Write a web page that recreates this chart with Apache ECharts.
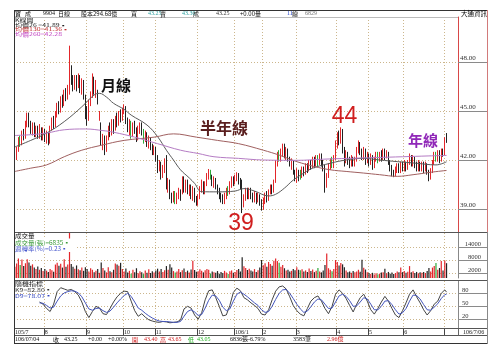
<!DOCTYPE html>
<html><head><meta charset="utf-8">
<script src="https://cdn.jsdelivr.net/npm/echarts@6/dist/echarts.min.js"></script>
<style>html,body{margin:0;padding:0;background:#fff}#c{width:500px;height:353px}</style>
</head><body><div id="c"></div>
<script>
// ---- data (open, close, low, high) per trading day ----
const ohlc = [
[41.4,42.1,41.3,42.3],[42.1,42.6,42.0,42.8],[42.6,43.2,42.5,43.4],[43.2,43.0,42.8,43.5],[43.0,43.6,42.9,43.8],[43.6,43.4,43.2,43.9],[43.4,44.2,43.3,44.4],[44.2,44.7,44.0,44.9],[44.7,44.2,44.0,44.9],[44.2,43.8,43.6,44.4],
[43.8,44.1,43.5,44.3],[44.1,43.6,43.4,44.3],[43.6,43.9,43.4,44.1],[43.9,43.5,43.3,44.1],[43.5,43.9,43.3,44.2],[43.9,43.4,43.2,44.0],[43.4,43.8,43.2,44.0],[43.8,43.3,43.1,43.9],[43.3,43.6,43.0,43.8],[43.6,43.1,42.9,43.7],
[43.1,43.9,43.0,44.1],[43.9,44.4,43.8,44.6],[44.4,44.1,43.9,44.7],[44.1,44.8,44.0,45.0],[44.8,45.3,44.6,45.5],[45.3,45.0,44.8,45.6],[45.0,45.7,44.9,45.9],[45.7,45.4,45.2,46.0],[45.4,46.1,45.3,46.3],[46.1,45.9,45.6,46.4],
[45.9,46.3,45.7,46.6],[46.2,47.8,46.0,49.0],[47.6,46.9,46.6,47.8],[46.9,46.5,46.2,47.2],[46.5,47.0,46.3,47.2],[47.0,46.5,46.2,47.2],[46.5,47.0,46.4,47.3],[47.0,46.3,46.1,47.2],[46.3,46.8,46.0,47.0],[46.8,45.9,45.7,46.9],
[45.9,44.9,44.5,46.0],[44.9,44.5,44.1,45.3],[44.5,45.5,44.4,45.7],[45.5,46.0,45.3,46.2],[46.0,46.9,45.8,47.3],[46.9,46.3,46.0,47.1],[46.3,46.6,45.8,46.9],[46.3,45.5,45.4,46.3],[44.6,44.9,44.4,45.0],[44.2,43.0,42.9,44.3],
[43.0,43.4,42.6,43.6],[43.4,42.6,42.3,43.5],[42.6,43.3,42.5,43.5],[43.3,43.9,43.2,44.1],[43.9,43.6,43.4,44.3],[43.6,44.3,43.5,44.5],[44.3,43.9,43.6,44.5],[43.9,44.5,43.8,44.7],[44.5,44.2,44.0,44.9],[44.2,44.8,44.1,45.0],
[44.8,44.6,44.3,45.1],[44.6,45.0,44.4,45.2],[45.0,45.2,44.8,45.4],[45.2,44.4,44.2,45.3],[44.4,44.0,43.7,44.6],[44.0,44.3,43.5,44.5],[44.3,43.6,43.3,44.4],[43.6,44.1,43.4,44.3],[44.1,43.8,43.6,44.4],[43.8,43.3,43.1,44.0],
[43.3,43.9,43.2,44.1],[43.9,44.2,43.6,44.3],[44.2,43.7,43.5,44.3],[43.7,43.3,43.0,43.9],[43.3,43.6,43.1,43.8],[43.6,43.0,42.8,43.7],[43.0,43.3,42.7,43.5],[43.3,42.8,42.6,43.4],[42.8,42.5,42.3,43.0],[42.5,42.7,42.3,42.9],
[42.7,42.2,41.9,42.8],[42.2,41.5,41.2,42.3],[41.5,41.8,41.3,42.0],[41.8,41.0,40.8,41.9],[41.0,41.5,40.9,41.7],[41.5,41.9,41.2,42.1],[42.1,40.4,40.2,42.3],[40.4,40.7,40.0,40.9],[40.7,39.8,39.6,40.8],[39.8,39.6,39.35,40.0],
[39.6,39.9,39.4,40.1],[39.9,39.5,39.3,40.1],[39.5,39.8,39.3,40.0],[39.8,40.1,39.6,40.3],[40.1,39.7,39.5,40.2],[40.0,40.9,39.9,41.0],[40.9,40.2,40.0,41.0],[40.2,40.6,40.0,40.8],[40.6,40.1,39.9,40.8],[40.1,40.4,39.8,40.5],
[40.4,39.8,39.6,40.5],[39.8,40.2,39.5,40.4],[40.2,39.6,39.4,40.3],[39.6,39.4,39.2,39.8],[39.4,39.7,39.2,39.9],[39.7,40.2,39.6,40.4],[40.2,40.6,40.0,40.8],[40.6,40.1,39.9,40.7],[40.1,40.5,39.9,40.7],[40.5,41.0,40.4,41.2],
[41.0,41.3,40.8,41.45],[41.3,41.0,40.8,41.4],[41.0,40.6,40.4,41.1],[40.6,40.8,40.3,41.0],[40.8,40.3,40.2,40.9],[40.3,40.1,39.9,40.5],[40.1,39.8,39.6,40.3],[39.8,39.6,39.4,40.0],[39.6,39.5,39.3,39.9],[39.5,39.8,39.3,40.0],
[39.8,40.2,39.6,40.3],[40.2,40.0,39.8,40.4],[40.0,40.5,39.9,40.7],[40.5,40.8,40.3,41.0],[40.8,40.6,40.4,41.0],[40.6,40.9,40.5,41.1],[40.9,41.1,40.7,41.25],[41.1,40.7,40.5,41.2],[40.7,40.4,40.2,40.9],[40.6,39.3,38.75,40.8],
[39.3,39.7,39.1,39.9],[39.7,40.1,39.5,40.3],[40.1,39.8,39.6,40.3],[39.8,40.2,39.6,40.3],[40.2,39.8,39.6,40.3],[39.8,39.6,39.4,40.0],[39.6,39.9,39.4,40.1],[39.9,39.5,39.3,40.0],[39.5,39.8,39.4,40.0],[39.8,39.4,39.2,39.9],
[39.4,39.1,38.9,39.6],[39.1,39.5,38.95,39.7],[39.5,39.9,39.3,40.0],[39.9,39.6,39.4,40.1],[39.6,40.0,39.5,40.2],[40.0,40.3,39.9,40.5],[40.3,40.1,39.9,40.5],[40.1,40.6,40.0,40.8],[40.6,41.8,40.6,42.0],[41.8,42.3,41.6,42.5],
[42.3,42.1,41.9,42.6],[42.1,42.5,41.9,42.7],[42.5,42.8,42.2,43.0],[42.8,42.3,42.1,43.0],[42.3,42.6,42.0,42.8],[42.6,42.1,41.9,42.7],[42.1,41.8,41.6,42.2],[41.8,41.9,41.4,42.1],[41.9,41.3,41.1,42.0],[41.3,40.9,40.7,41.4],
[40.9,41.3,40.6,41.5],[41.3,40.9,40.7,41.4],[41.2,41.0,40.8,41.4],[41.0,41.4,40.9,41.6],[41.4,41.2,41.0,41.6],[41.2,41.6,41.1,41.8],[41.6,41.4,41.2,41.8],[41.4,41.8,41.3,42.0],[41.8,41.6,41.4,42.0],[41.6,42.0,41.5,42.2],
[42.0,41.7,41.5,42.2],[41.7,42.1,41.6,42.3],[42.1,41.8,41.6,42.3],[41.8,42.2,41.7,42.4],[42.2,41.9,41.6,42.4],[41.9,41.6,41.3,42.0],[41.6,40.5,40.0,41.7],[40.5,41.0,40.3,41.2],[41.0,41.6,40.9,41.8],[41.6,41.9,41.4,42.1],
[41.9,41.7,41.5,42.2],[41.7,42.1,41.5,42.3],[42.1,42.9,42.0,43.2],[42.9,43.5,42.7,43.7],[43.5,43.2,42.9,43.8],[43.2,43.8,43.0,44.0],[43.8,42.6,42.4,43.9],[42.6,42.0,41.6,42.8],[42.0,42.4,41.8,42.6],[42.4,42.0,41.7,42.5],
[42.0,41.8,41.5,42.2],[41.8,42.1,41.6,42.3],[42.1,41.8,41.6,42.2],[41.8,42.0,41.6,42.2],[42.0,42.6,41.9,42.8],[42.6,43.0,42.4,43.2],[43.0,42.5,42.3,43.1],[42.5,42.2,42.0,42.7],[42.2,42.6,42.0,42.8],[42.6,42.0,41.7,42.7],
[42.0,42.3,41.8,42.5],[42.3,41.9,41.6,42.4],[41.9,42.2,41.7,42.4],[42.2,41.7,41.4,42.3],[41.7,42.0,41.5,42.2],[42.0,42.4,41.9,42.5],[42.4,42.1,41.8,42.5],[42.1,42.3,41.9,42.5],[42.3,42.1,41.9,42.6],[42.1,42.5,42.0,42.7],
[42.5,42.3,42.0,42.7],[42.3,42.4,42.1,42.6],[42.4,41.9,41.7,42.5],[41.9,41.5,41.3,42.0],[41.5,41.2,41.0,41.7],[41.2,41.1,40.95,41.4],[41.1,41.4,41.0,41.6],[41.4,41.6,41.2,41.8],[41.6,41.3,41.2,41.8],[41.3,41.7,41.2,41.9],
[41.7,41.5,41.3,41.9],[41.5,41.8,41.3,42.0],[41.8,41.5,41.3,41.9],[41.5,41.9,41.4,42.0],[41.9,42.2,41.7,42.4],[42.2,41.8,41.6,42.3],[41.8,42.1,41.6,42.3],[42.1,41.7,41.5,42.2],[41.7,41.5,41.3,41.9],[41.5,41.8,41.3,42.0],
[41.8,41.5,41.3,41.9],[41.5,41.7,41.3,41.9],[41.7,41.4,41.2,41.9],[41.4,41.7,41.3,41.9],[41.7,41.3,41.1,41.8],[41.3,40.9,40.7,41.4],[40.9,41.3,40.8,41.5],[41.3,41.8,41.2,42.0],[41.8,42.3,41.7,42.5],[42.3,42.1,41.9,42.5],
[42.1,42.4,41.9,42.6],[42.4,42.0,41.8,42.6],[42.0,42.5,41.9,42.7],[42.5,42.3,42.2,42.7],[42.3,43.25,42.3,43.4],[43.40,43.25,43.05,43.65]
];
const greenDays = [3,66,73,91,111,121,150,162,172,180,206,239];
const volume = [
5200,6700,9000,6000,8500,5500,6800,8600,7200,5600,
6300,4800,4200,5300,3800,4600,3200,4100,3400,2800,
4200,3600,2900,6200,7000,5600,6600,4800,8600,5200,
6200,26000,6500,5200,4300,5800,4000,3600,4800,3300,
5000,4200,3000,4500,3800,2600,3300,4100,2400,7200,
4600,3500,2600,4900,3100,2700,3800,6700,6200,5600,
7000,4200,3000,4400,2500,3300,2000,3800,2700,4500,
2200,3100,2600,1800,3500,2400,4000,2300,3100,2500,
3400,4300,3000,4200,2800,3600,5500,3800,6300,4800,
3200,2500,3000,4100,2700,3600,4400,2800,3400,2500,
3900,8000,3700,2900,3100,4000,3300,2600,3600,4200,
3800,2100,3000,2700,2400,3200,2000,2800,2300,3300,
2500,1900,3100,3500,2400,2800,3700,4200,3000,9600,
5400,4600,3700,4300,3500,3000,4100,2800,3600,4800,
8300,5900,6800,5200,7400,6400,5600,8000,9000,7800,
7000,5200,6000,4500,3400,3800,3000,3300,4200,3600,
4900,3800,3600,4000,3000,3500,2800,4400,3200,3900,
2700,3300,4600,3000,2600,3500,6000,11300,4500,3800,
3100,4200,8300,7400,5800,6900,6300,5000,3500,2700,
3000,2400,3200,2600,3000,3800,2900,8400,4700,3900,
2600,2300,1800,2400,1600,2200,1700,2000,2500,2600,
4300,2200,2800,2000,2500,1900,2300,3000,2600,4800,
2700,3200,2400,2900,5500,2600,3100,2300,2800,2200,
2600,2400,2800,2300,3200,4600,3000,4800,5500,6900,
3800,4600,7800,3500,8100,6835
];
// moving averages: [day index, value]
const ma26 = [[0,42.8],[9,43.2],[18,43.65],[28,44.35],[38,45.26],[45,45.98],[48,46.08],[52,45.85],[56,45.47],[62,45.1],[66,44.75],[75,44.14],[81,43.43],[86,42.6],[90,42.0],[94,41.4],[99,40.9],[102,40.57],[106,40.06],[115,40.05],[125,40.1],[130,40.25],[136,40.1],[144,39.8],[148,39.9],[153,40.28],[158,40.77],[164,41.2],[169,41.5],[179,41.8],[188,42.0],[198,42.1],[207,42.0],[217,41.9],[228,41.8],[239,41.7],[245,41.89]];
const ma130 = [[0,41.3],[9,41.5],[18,41.7],[28,42.2],[38,42.6],[49,42.9],[62,43.2],[79,43.4],[90,43.6],[103,43.4],[115,43.2],[127,43.0],[141,42.6],[150,42.3],[160,41.9],[170,41.6],[179,41.4],[188,41.3],[198,41.2],[207,41.1],[217,41.0],[226,41.1],[236,41.25],[245,41.36]];
const ma260 = [[0,43.5],[9,43.55],[18,43.65],[28,43.85],[40,43.9],[50,43.8],[56,43.7],[68,43.4],[81,43.0],[94,42.6],[104,42.4],[113,42.2],[127,42.1],[141,42.0],[160,41.98],[175,42.05],[189,42.1],[205,42.15],[220,42.2],[235,42.25],[245,42.28]];
// stochastic K9 / D9: [day index, value]
const kLine = [[14,60],[16,55],[18,45],[20,38],[22,55],[24,84],[26,93],[28,90],[30,87],[32,89],[34,84],[36,76],[38,60],[40,38],[42,24],[44,38],[46,50],[48,46],[50,33],[52,31],[54,45],[56,60],[58,72],[60,80],[62,85],[64,84],[66,62],[68,40],[70,27],[72,33],[74,25],[76,19],[78,16],[80,14],[82,13],[84,15],[86,14],[88,12],[90,13],[92,14],[94,18],[96,44],[98,50],[100,46],[102,30],[104,20],[106,35],[108,65],[110,86],[112,88],[114,70],[116,50],[118,28],[120,30],[122,52],[124,82],[126,92],[128,86],[130,70],[132,65],[134,58],[136,52],[138,45],[140,32],[142,30],[144,42],[146,65],[148,85],[150,95],[152,97],[154,90],[156,72],[158,52],[160,40],[162,32],[164,28],[166,45],[168,62],[170,70],[172,74],[174,62],[176,45],[178,33],[180,50],[182,78],[184,88],[186,80],[188,68],[190,52],[192,37],[194,55],[196,70],[198,78],[200,62],[202,42],[204,32],[206,45],[208,60],[210,73],[212,62],[214,45],[216,30],[218,24],[220,40],[222,58],[224,78],[226,88],[228,72],[230,58],[232,42],[234,30],[236,40],[238,55],[240,62],[242,80],[244,88],[245,82.8]];
const dLine = [[14,58],[16,57],[18,52],[20,46],[22,48],[24,62],[26,74],[28,81],[30,84],[32,86],[34,85],[36,81],[38,72],[40,58],[42,44],[44,41],[46,45],[48,46],[50,40],[52,36],[54,39],[56,48],[58,58],[60,67],[62,75],[64,80],[66,73],[68,60],[70,46],[72,41],[74,34],[76,28],[78,23],[80,19],[82,16],[84,15],[86,15],[88,14],[90,13],[92,13],[94,15],[96,27],[98,38],[100,42],[102,37],[104,29],[106,31],[108,46],[110,64],[112,76],[114,74],[116,64],[118,48],[120,40],[122,44],[124,62],[126,78],[128,83],[130,78],[132,72],[134,65],[136,58],[138,52],[140,42],[142,36],[144,38],[146,50],[148,66],[150,80],[152,88],[154,89],[156,80],[158,68],[160,55],[162,44],[164,36],[166,39],[168,49],[170,60],[172,67],[174,65],[176,55],[178,45],[180,46],[182,60],[184,74],[186,78],[188,73],[190,63],[192,50],[194,51],[196,60],[198,70],[200,67],[202,55],[204,42],[206,42],[208,50],[210,62],[212,63],[214,54],[216,42],[218,32],[220,35],[222,45],[224,62],[226,76],[228,75],[230,67],[232,54],[234,42],[236,41],[238,48],[240,56],[242,68],[244,77],[245,78.07]];
const monthStarts = [0,17,41,62,80,104,125,141,160,183,201,221,244];
const monthLabels = ['105/7','8','9','10','11','12','106/1','2','3','4','5','6','7'];
const priceTicks = [39,42,45,48];
const volTicks = [2000,8000,14000];
const kdTicks = [20,50,80];
const padSlots = 6;

// ---- build ----
const RED='#e3262a', BLK='#222', GRN='#2fa83a', GRIDC='#ccb68c';
const SERIF='"Liberation Serif","Noto Sans CJK TC",serif';
const CJK='"Noto Sans CJK TC","Noto Sans",sans-serif';
const slots = ohlc.length + padSlots;
const cats = Array.from({length:slots},(_,i)=>String(i));
const isMonth = i => monthStarts.indexOf(i) >= 0;
const greenSet = new Set(greenDays);
const colorOf = i => greenSet.has(i) ? GRN : (ohlc[i][1] >= ohlc[i][0] ? RED : BLK);

const candleData = ohlc.map((d,i)=> greenSet.has(i) ? {value:d, itemStyle:{color:GRN,color0:GRN,borderColor:GRN,borderColor0:GRN}} : d);
const volData = volume.map((v,i)=>({value:v, itemStyle:{color:colorOf(i)}}));

function xAx(g, withLabels){
  return {type:'category', gridIndex:g, data:cats, boundaryGap:true,
    axisLine:{show:false},
    axisTick: withLabels ? {show:true, interval:(i)=>isMonth(i), length:7, lineStyle:{color:'#444'}} : {show:false},
    axisLabel: withLabels ? {show:true, interval:(i)=>isMonth(i), showMaxLabel:false, showMinLabel:true,
      formatter:(v,i)=>{const k=monthStarts.indexOf(i); return k>=0?monthLabels[k]:'';},
      align:'left', margin:1, fontSize:6, fontFamily:SERIF, color:'#222'} : {show:false},
    splitLine:{show:true, interval:(i)=>isMonth(i)&&i>0, lineStyle:{color:GRIDC, type:[1,2], width:1}}
  };
}
function yAx(g, min, max, ticks, fmt, lineColor, align, margin, fs){
  return {type:'value', gridIndex:g, position:'right', min, max,
    axisLine:{show:true, lineStyle:{color:lineColor}},
    axisTick:{show:true, customValues:ticks, length:30, lineStyle:{color:'#8a8a8a'}},
    axisLabel:{show:true, customValues:ticks, formatter:fmt, align, verticalAlign:'bottom', margin, fontSize:fs, fontFamily:SERIF, color:'#333'},
    splitLine:{show:true, lineStyle:{color:GRIDC, type:[1,2], width:1}}
  };
}

function T(x,y,text,fill,fs,opt){
  opt=opt||{};
  return {type:'text', x, y, z:100, scaleY:opt.sy||1, silent:true,
    style:{text, fill, fontSize:fs, fontFamily:opt.ff||CJK, fontWeight:opt.fw||'normal',
      align:opt.align||'left', verticalAlign:'middle'}};
}
function L(x1,y1,x2,y2,c){return {type:'line', z:90, silent:true, shape:{x1,y1,x2,y2}, style:{stroke:c, lineWidth:1}};}

const graphics = [
  {type:'rect', z:95, silent:true, shape:{x:15,y:238.5,width:60,height:13.5}, style:{fill:'#fff'}},
  L(14,10.5,488,10.5,'#333'), L(14,17.5,458,17.5,'#bbb'),
  L(14,232.5,488,232.5,'#555'), L(14,280.5,488,280.5,'#555'),
  L(14,328.5,488,328.5,'#555'), L(14,335.5,488,335.5,'#555'), L(14,343.5,488,343.5,'#333'),
  L(14.5,10,14.5,344,'#333'), L(487.5,10,487.5,232,'#d27a7a'), L(487.5,232,487.5,344,'#888'),
  L(458.5,328.5,458.5,335.5,'#666'),
  // header
  T(15,13.8,'寶','#111',6), T(25,13.8,'成','#111',6), T(43,13.8,'9904','#111',6,{ff:SERIF}),
  T(58,13.8,'日線','#111',6), T(81,13.8,'股本294.68億','#111',6), T(131,13.8,'買','#111',6),
  T(148,13.8,'43.25','#2aa0a0',6,{ff:SERIF}), T(160,13.8,'賣','#111',6),
  T(182,13.8,'43.30','#2aa0a0',6,{ff:SERIF}), T(193,13.8,'成','#111',6),
  T(216,13.8,'43.25','#333',6,{ff:SERIF}), T(240,13.8,'+0.00量','#111',6),
  T(287,13.8,'11','#2244cc',6,{ff:SERIF}), T(292,13.8,'總','#111',6), T(305,13.8,'6829','#777',6,{ff:SERIF}),
  T(487,13.8,'大通資訊','#111',6.5,{align:'right'}),
  // main legend
  T(15,20.5,'K線圖','#111',7,{sy:0.68}),
  T(15,25,'均價26 =41.89▪','#222',7,{sy:0.68}),
  T(15,29.5,'均價130=41.36▪','#c03030',7,{sy:0.68}),
  T(15,34,'均價260=42.28','#c040c0',7,{sy:0.68}),
  // annotations
  T(101,85,'月線','#111',15,{fw:'bold'}),
  T(200,128,'半年線','#5a1e1e',16,{fw:'bold'}),
  T(408,140,'年線','#9028b8',15,{fw:'bold'}),
  T(344.5,116.5,'44','#d01e1e',23,{ff:'"Liberation Sans",Arial,sans-serif',align:'center'}),
  T(241,223.5,'39','#d01e1e',23,{ff:'"Liberation Sans",Arial,sans-serif',align:'center'}),
  // volume labels
  T(15,236,'成交量','#111',6.5,{sy:0.85}),
  T(15,242.5,'成交量(張)=6835▪','#3a9a3a',6.5,{sy:0.85}),
  T(15,249,'週轉率(%)=0.23▪','#4455cc',6.5,{sy:0.85}),
  // KD labels
  T(15,284,'隨機指標','#111',7,{sy:0.75}),
  T(15,290.5,'K9=82.80▪','#333',7,{sy:0.75}),
  T(15,296,'D9=78.07▪','#3344bb',7,{sy:0.75}),
  // date row right
  T(463,332.2,'106/7/06','#222',6,{ff:SERIF}),
  // info row
  T(15,339.6,'106/07/04','#111',6,{ff:SERIF}), T(53,339.6,'收','#111',6),
  T(64,339.6,'43.25','#111',6,{ff:SERIF}), T(88,339.6,'+0.00','#111',6,{ff:SERIF}),
  T(108,339.6,'+0.00%','#111',6,{ff:SERIF}), T(132,339.6,'開','#d02020',6),
  T(144,339.6,'43.40','#d02020',6,{ff:SERIF}), T(160,339.6,'高','#d02020',6),
  T(168,339.6,'43.65','#d02020',6,{ff:SERIF}), T(188,339.6,'低','#20b020',6),
  T(197,339.6,'43.05','#20b020',6,{ff:SERIF}), T(230,339.6,'6836張-6.79%','#111',6,{ff:SERIF}),
  T(293,339.6,'3583筆','#111',6,{ff:SERIF}), T(327,339.6,'2.96億','#d02020',6,{ff:SERIF})
];

const option = {
  animation:false,
  backgroundColor:'#fff',
  grid:[
    {left:14,right:42,top:17,height:215,outerBoundsMode:'none'},
    {left:14,right:42,top:233,height:45,outerBoundsMode:'none'},
    {left:14,right:42,top:281,height:47.5,outerBoundsMode:'none'}
  ],
  xAxis:[xAx(0,false), xAx(1,false), xAx(2,true)],
  yAxis:[
    yAx(0,37.592,50.755,priceTicks,v=>v.toFixed(2),'#d84848','left',2,7),
    yAx(1,0,20745,volTicks,v=>String(v),'#888','right',23,6.5),
    yAx(2,-1.2,108.5,kdTicks,v=>String(v),'#888','left',4,6.5)
  ],
  series:[
    {type:'candlestick', xAxisIndex:0, yAxisIndex:0, data:candleData, barWidth:1, clip:true,
      itemStyle:{color:RED,color0:BLK,borderColor:RED,borderColor0:BLK,borderWidth:1}},
    {type:'line', xAxisIndex:0, yAxisIndex:0, data:ma26, symbol:'none', smooth:0.4, z:3, lineStyle:{color:'#5a5a5a',width:1}},
    {type:'line', xAxisIndex:0, yAxisIndex:0, data:ma130, symbol:'none', smooth:0.4, z:3, lineStyle:{color:'#a06060',width:1}},
    {type:'line', xAxisIndex:0, yAxisIndex:0, data:ma260, symbol:'none', smooth:0.4, z:3, lineStyle:{color:'#b57cc4',width:1}},
    {type:'bar', xAxisIndex:1, yAxisIndex:1, data:volData, barWidth:1.2, clip:true},
    {type:'line', xAxisIndex:2, yAxisIndex:2, data:kLine, symbol:'none', lineStyle:{color:'#444',width:1}},
    {type:'line', xAxisIndex:2, yAxisIndex:2, data:dLine, symbol:'none', lineStyle:{color:'#4455bb',width:1}}
  ],
  graphic:graphics
};
const chart = echarts.init(document.getElementById('c'), null, {renderer:'canvas'});
chart.setOption(option);
</script></body></html>
